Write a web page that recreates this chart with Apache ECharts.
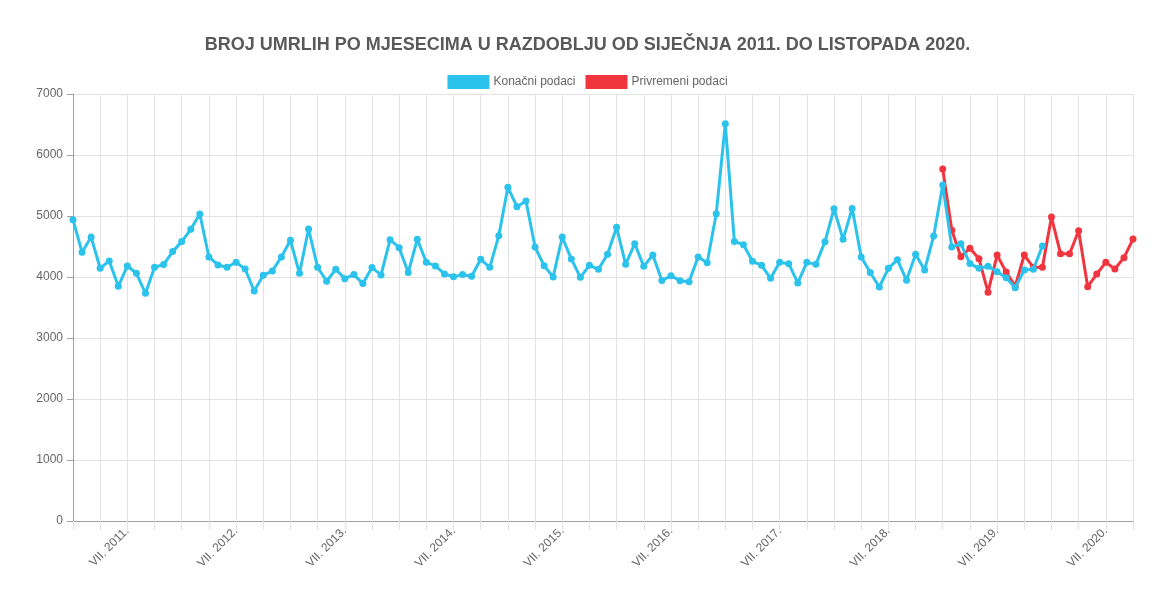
<!DOCTYPE html>
<html>
<head>
<meta charset="utf-8">
<script src="https://cdn.jsdelivr.net/npm/echarts@6/dist/echarts.min.js"></script>
<style>
html,body{margin:0;padding:0;background:#fff;}
#c{width:1175px;height:611px;}
</style>
</head>
<body>
<div id="c"></div>
<script>
const titleText = 'BROJ UMRLIH PO MJESECIMA U RAZDOBLJU OD SIJEČNJA 2011. DO LISTOPADA 2020.';
const monthNumerals = ['I.','II.','III.','IV.','V.','VI.','VII.','VIII.','IX.','X.','XI.','XII.'];
const years = [2011,2012,2013,2014,2015,2016,2017,2018,2019,2020];
const lastMonthCount2020 = 10;
const seriesNames = ['Konačni podaci','Privremeni podaci'];
const yTicks = [0,1000,2000,3000,4000,5000,6000,7000];

// Konačni podaci: I. 2011. – XII. 2019.
const finalData = [
  4940,4405,4656,4143,4263,3848,4181,4061,3733,4159,4203,4416,
  4580,4782,5033,4328,4197,4159,4241,4132,3771,4028,4100,4328,
  4601,4061,4787,4159,3930,4126,3973,4039,3892,4154,4034,4612,
  4481,4072,4618,4241,4181,4050,4006,4039,4012,4290,4159,4678,
  5470,5153,5246,4492,4186,4001,4656,4296,3995,4192,4126,4372,
  4814,4208,4547,4175,4361,3941,4022,3940,3924,4328,4235,5037,
  6512,4584,4530,4257,4191,3978,4240,4218,3902,4240,4207,4579,
  5119,4617,5125,4328,4074,3836,4142,4284,3945,4371,4115,4672,
  5507,4490,4545,4220,4142,4175,4085,3989,3825,4115,4126,4508
];
// Privremeni podaci: I. 2019. – X. 2020.
const provisionalStart = 'I. 2019.';
const provisionalData = [
  5769,4765,4333,4470,4298,3751,4360,4080,3850,4360,4158,4158,
  4983,4382,4382,4759,3842,4049,4240,4131,4317,4622
];

const categories = [];
years.forEach(y => {
  monthNumerals.forEach((m, i) => {
    if (y === 2020 && i >= lastMonthCount2020) return;
    categories.push(m + ' ' + y + '.');
  });
});
const startIdx = categories.indexOf(provisionalStart);
const provisionalSeries = categories.map((c, i) =>
  (i >= startIdx && i - startIdx < provisionalData.length) ? provisionalData[i - startIdx] : null);

const BLUE = '#2bc2ec';
const RED = '#f1353f';
const GRID = '#e3e3e3';
const TXT = '#666';

const chart = echarts.init(document.getElementById('c'), null, {renderer: 'canvas'});
chart.setOption({
  animation: false,
  title: {
    text: titleText,
    left: 'center',
    top: 31,
    textStyle: {fontFamily: 'Liberation Sans, Arial', fontSize: 18, fontWeight: 'bold', color: '#595959'}
  },
  legend: {
    top: 70,
    left: 'center',
    itemWidth: 42,
    itemHeight: 14,
    itemGap: 10,
    icon: 'rect',
    textStyle: {fontFamily: 'Liberation Sans, Arial', fontSize: 12, color: TXT, padding: [0,0,0,-1]},
    data: seriesNames
  },
  grid: {left: 73, right: 42, top: 94, bottom: 90, containLabel: false},
  xAxis: {
    type: 'category',
    data: categories,
    boundaryGap: false,
    axisLine: {lineStyle: {color: '#a0a0a0', width: 1}},
    axisTick: {show: true, interval: 2, length: 9, lineStyle: {color: GRID}},
    splitLine: {show: true, interval: 2, lineStyle: {color: GRID, width: 1}},
    axisLabel: {
      interval: function (index) { return index % 12 === 6; },
      rotate: 45,
      margin: 8,
      color: TXT,
      fontSize: 12,
      fontFamily: 'Liberation Sans, Arial'
    }
  },
  yAxis: {
    type: 'value',
    min: yTicks[0],
    max: yTicks[yTicks.length - 1],
    interval: 1000,
    axisLine: {show: true, lineStyle: {color: '#a0a0a0', width: 1}},
    axisTick: {show: true, length: 6, lineStyle: {color: '#a0a0a0'}},
    splitLine: {show: true, lineStyle: {color: GRID, width: 1}},
    axisLabel: {color: TXT, fontSize: 12, margin: 10, fontFamily: 'Liberation Sans, Arial',
      formatter: function (v) { return String(v); }}
  },
  series: [
    {
      name: seriesNames[1],
      type: 'line',
      data: provisionalSeries,
      connectNulls: false,
      symbol: 'circle',
      symbolSize: 7,
      showAllSymbol: true,
      lineStyle: {color: RED, width: 3},
      itemStyle: {color: RED},
      z: 2
    },
    {
      name: seriesNames[0],
      type: 'line',
      data: finalData,
      symbol: 'circle',
      symbolSize: 7,
      showAllSymbol: true,
      lineStyle: {color: BLUE, width: 3},
      itemStyle: {color: BLUE},
      z: 3
    }
  ]
});
</script>
</body>
</html>
